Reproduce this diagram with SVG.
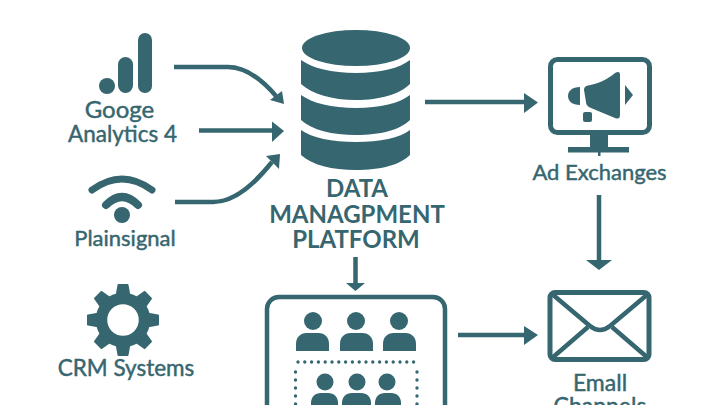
<svg xmlns="http://www.w3.org/2000/svg" width="720" height="405" viewBox="0 0 720 405">
<style>
.f{fill:#36666f}
.s{fill:none;stroke:#36666f}
.t{fill:#36666f;font-family:"Lato","Noto Sans",sans-serif;font-weight:400;text-anchor:middle;stroke:#36666f;stroke-width:.45}
.b{font-weight:700;stroke-width:0}
.c{stroke:#36666f;stroke-width:4.5;fill:none}
.d{fill:#36666f}
</style>
<defs>
<path id="tooth" class="f" d="M-7.500 -24L-5.500 -35Q-5.500 -36 -4.500 -36H4.500Q5.500 -36 5.500 -35L7.500 -24Z"/>
<path id="b1" class="f" d="M-16.500 18V11C-16.500 4 -12 0 -6 0H6C12 0 16.500 4 16.500 11V18Z"/>
</defs>
<rect width="720" height="405" fill="#fff"/>
<g id="ga4">
<circle class="f" cx="107" cy="86" r="8"/>
<rect class="f" x="118" y="57" width="15" height="36" rx="7.500"/>
<rect class="f" x="138" y="33" width="14" height="60" rx="7"/>
<text class="t" x="119.500" y="118" font-size="24">Googe</text>
<text class="t" x="122.500" y="142" font-size="22.500">Analytics 4</text>
</g>
<g id="plainsignal">
<path class="s" stroke-width="7" stroke-linecap="round" d="M92 190Q122 168 152 190"/>
<path class="s" stroke-width="8" stroke-linecap="round" d="M106 205Q122 189 138 205"/>
<circle class="f" cx="122" cy="215" r="8"/>
<text class="t" x="125" y="246" font-size="22">Plainsignal</text>
</g>
<g id="crm">
<circle class="s" cx="123" cy="320" r="21.500" stroke-width="11.500"/>
<use href="#tooth" transform="translate(123 320)"/>
<use href="#tooth" transform="translate(123 320) rotate(45)"/>
<use href="#tooth" transform="translate(123 320) rotate(90)"/>
<use href="#tooth" transform="translate(123 320) rotate(135)"/>
<use href="#tooth" transform="translate(123 320) rotate(180)"/>
<use href="#tooth" transform="translate(123 320) rotate(225)"/>
<use href="#tooth" transform="translate(123 320) rotate(270)"/>
<use href="#tooth" transform="translate(123 320) rotate(315)"/>
<text class="t" x="126" y="376" font-size="22.500">CRM Systems</text>
</g>
<g id="dmp">
<ellipse class="f" cx="356" cy="48" rx="54" ry="18"/>
<path class="f" d="M301 60C312 68 332 73 356 73C380 73 400 68 410 60V84C400 94 380 100 356 100C332 100 312 94 301 84Z"/>
<path class="f" d="M301 95C312 103 332 108 356 108C380 108 400 103 410 95V120C400 130 380 135 356 135C332 135 312 130 301 120Z"/>
<path class="f" d="M301 130C312 138 332 142 356 142C380 142 400 138 410 130V155C400 165 380 170 356 170C332 170 312 165 301 155Z"/>
<text class="t b" x="357" y="197" font-size="24">DATA</text>
<text class="t b" x="357" y="223" font-size="24">MANAGPMENT</text>
<text class="t b" x="356" y="248" font-size="24">PLATFORM</text>
</g>
<g id="ad-exchanges">
<rect class="s" x="550.500" y="59.500" width="99" height="73" rx="7" stroke-width="5"/>
<path class="f" d="M590 134H608V147H590Z"/>
<rect class="f" x="568" y="147" width="61" height="5.500"/>
<rect class="f" x="598" y="152" width="2.500" height="4"/>
<path class="f" d="M584 90Q584 86 588 85.500C598 84 608 79 615 73Q620 70 620 75V115Q620 120 615 118L591 108Q586 106 586 102Z"/>
<path class="f" d="M580 87V105C572 105 568 101 568 96C568 91 572 87 580 87Z"/>
<rect class="f" x="583" y="112" width="9" height="10" rx="2"/>
<path class="f" d="M625 85L633 95L625 105Z"/>
<text class="t" x="599.500" y="180" font-size="22">Ad Exchanges</text>
</g>
<g id="email">
<rect class="s" x="550" y="292.500" width="99" height="67" rx="5" stroke-width="5"/>
<path class="s" stroke-width="4.500" d="M552 294L590 326Q600 334 610 326L648 294"/>
<path class="s" stroke-width="4.500" d="M552 358L588 327M612 327L648 358"/>
<text class="t" x="600" y="391" font-size="23">Emall</text>
<text class="t" x="600" y="414" font-size="23">Channels</text>
</g>
<g id="segments">
<rect class="s" x="267" y="297" width="178" height="130" rx="12" stroke-width="4.500"/>
<circle class="f" cx="313" cy="321" r="9"/>
<circle class="f" cx="356" cy="321" r="9"/>
<circle class="f" cx="399" cy="321" r="9"/>
<use href="#b1" transform="translate(312.500 333)"/>
<use href="#b1" transform="translate(356.500 333)"/>
<use href="#b1" transform="translate(399.500 333)"/>
<circle class="f" cx="325" cy="382" r="8.500"/>
<circle class="f" cx="357" cy="382" r="8.500"/>
<circle class="f" cx="387" cy="382" r="8.500"/>
<path class="f" d="M311 412V403C311 397 315 393 321 393H328C334 393 338 397 338 403V412Z"/>
<path class="f" d="M342 412V403C342 397 346 393 352 393H361C367 393 371 397 371 403V412Z"/>
<path class="f" d="M375 412V403C375 397 379 393 385 393H391C397 393 401 397 401 403V412Z"/>
<path class="s" stroke-width="3.400" stroke-linecap="round" stroke-dasharray="0 6.800" d="M298 362H418"/>
<path class="s" stroke-width="3.400" stroke-linecap="round" stroke-dasharray="0 8" d="M295.500 372V410M417 372V410"/>
</g>
<g id="connectors">
<path class="c" d="M174 67H228C248 67 264 82 276 96"/>
<path class="d" d="M284 104L270 100L282 91Z"/>
<path class="c" d="M199 130.500H274"/>
<path class="d" d="M272 121.500L284 131L272 142Z"/>
<path class="c" d="M175 202H213C236 202 256 182 272 162"/>
<path class="d" d="M266 156L280 154L279 169Z"/>
<path class="c" d="M425 102H526"/>
<path class="d" d="M524 93L538 102.500L524 113Z"/>
<path class="c" d="M355.500 257V284"/>
<path class="d" d="M346 283H365L355.500 291Z"/>
<path class="c" d="M599 195V262"/>
<path class="d" d="M586 260H612L599 270Z"/>
<path class="c" d="M458 335H526"/>
<path class="d" d="M524 326L538 335L524 345Z"/>
</g>
</svg>
